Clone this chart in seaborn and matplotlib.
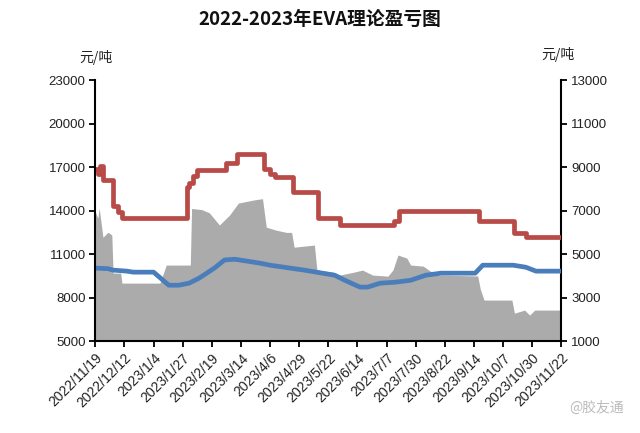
import matplotlib
matplotlib.use("Agg")
import matplotlib.pyplot as plt
import seaborn as sns
import pandas as pd

# ---------------- data ----------------
price_dates = ["2022-11-19", "2022-11-21", "2022-11-23", "2022-11-25", "2022-12-03",
               "2022-12-07", "2022-12-10", "2023-01-30", "2023-02-01", "2023-02-04",
               "2023-02-07", "2023-03-02", "2023-03-11", "2023-04-01", "2023-04-06",
               "2023-04-10", "2023-04-24", "2023-05-14", "2023-05-31", "2023-07-13",
               "2023-07-17", "2023-09-18", "2023-10-16", "2023-10-25", "2023-11-22"]
price_values = [16900, 16500, 17100, 16100, 14300,
                13900, 13500, 15600, 15900, 16400,
                16800, 17300, 17900, 16900, 16500,
                16300, 15300, 13500, 13000, 13300,
                14000, 13300, 12450, 12200, 12200]

cost_dates = ["2022-11-19", "2022-11-29", "2022-12-03", "2022-12-14", "2022-12-19",
              "2023-01-04", "2023-01-16", "2023-01-24", "2023-02-01", "2023-02-09",
              "2023-02-21", "2023-03-01", "2023-03-09", "2023-03-13", "2023-03-29",
              "2023-04-06", "2023-05-03", "2023-05-27", "2023-06-04", "2023-06-16",
              "2023-06-22", "2023-07-02", "2023-07-14", "2023-07-26", "2023-08-07",
              "2023-08-19", "2023-09-15", "2023-09-21", "2023-10-15", "2023-10-25",
              "2023-11-02", "2023-11-22"]
cost_values = [10040, 10000, 9900, 9830, 9760,
               9760, 8860, 8860, 9000, 9350,
               10040, 10600, 10650, 10600, 10380,
               10240, 9900, 9550, 9200, 8730,
               8730, 9000, 9070, 9200, 9550,
               9690, 9690, 10240, 10240, 10100,
               9830, 9830]

profit_dates = ["2022-11-19", "2022-11-21", "2022-11-22", "2022-11-25", "2022-11-29",
                "2022-12-02", "2022-12-03", "2022-12-09", "2022-12-10", "2023-01-09",
                "2023-01-14", "2023-02-02", "2023-02-03", "2023-02-11", "2023-02-17",
                "2023-02-25", "2023-03-05", "2023-03-12", "2023-03-25", "2023-03-31",
                "2023-04-03", "2023-04-11", "2023-04-19", "2023-04-23", "2023-04-25",
                "2023-05-11", "2023-05-13", "2023-05-26", "2023-05-31", "2023-06-11",
                "2023-06-18", "2023-06-26", "2023-07-08", "2023-07-12", "2023-07-16",
                "2023-07-23", "2023-07-26", "2023-08-05", "2023-08-15", "2023-09-17",
                "2023-09-19", "2023-09-22", "2023-10-14", "2023-10-16", "2023-10-24",
                "2023-10-28", "2023-11-01", "2023-11-22"]
profit_values = [6930, 6660, 7120, 5780, 6010,
                 5880, 4130, 4130, 3670, 3670,
                 4500, 4500, 7100, 7050, 6900,
                 6340, 6800, 7350, 7500, 7550,
                 6240, 6100, 6000, 6000, 5320,
                 5420, 4270, 4170, 4040, 4170,
                 4270, 4040, 3990, 4270, 4960,
                 4820, 4500, 4450, 4040, 4000,
                 3400, 2890, 2890, 2290, 2430,
                 2200, 2430, 2430]

tick_dates = ["2022-11-19", "2022-12-12", "2023-01-04", "2023-01-27", "2023-02-19",
              "2023-03-14", "2023-04-06", "2023-04-29", "2023-05-22", "2023-06-14",
              "2023-07-07", "2023-07-30", "2023-08-22", "2023-09-14", "2023-10-07",
              "2023-10-30", "2023-11-22"]
tick_labels = ["2022/11/19", "2022/12/12", "2023/1/4", "2023/1/27", "2023/2/19",
               "2023/3/14", "2023/4/6", "2023/4/29", "2023/5/22", "2023/6/14",
               "2023/7/7", "2023/7/30", "2023/8/22", "2023/9/14", "2023/10/7",
               "2023/10/30", "2023/11/22"]
left_ticks = [5000, 8000, 11000, 14000, 17000, 20000, 23000]
right_ticks = [1000, 3000, 5000, 7000, 9000, 11000, 13000]

# ---------------- style ----------------
sns.set_theme(style="white")
plt.rcParams["font.family"] = ["Liberation Sans", "Noto Sans CJK SC", "DejaVu Sans"]

price_df = pd.DataFrame({"date": pd.to_datetime(price_dates), "v": price_values})
cost_df = pd.DataFrame({"date": pd.to_datetime(cost_dates), "v": cost_values})
profit_df = pd.DataFrame({"date": pd.to_datetime(profit_dates), "v": profit_values})

fig = plt.figure(figsize=(6.4, 4.33), dpi=100)
ax = fig.add_axes([0.149, 0.212, 0.728, 0.603])
ax2 = ax.twinx()
ax.set_zorder(ax2.get_zorder() + 1)
ax.patch.set_visible(False)

# gray profit area on right axis
ax2.fill_between(profit_df["date"], 1000, profit_df["v"], color="#ABABAB", linewidth=0)
ax2.set_ylim(1000, 13000)

# lines on left axis
sns.lineplot(data=price_df, x="date", y="v", ax=ax, color="#B84A48", linewidth=3.4,
             drawstyle="steps-post")
sns.lineplot(data=cost_df, x="date", y="v", ax=ax, color="#4A7EBB", linewidth=3.4)
ax.set_ylim(5000, 23000)
ax.set_xlim(pd.Timestamp("2022-11-19"), pd.Timestamp("2023-11-22"))
ax.set_xlabel("")
ax.set_ylabel("")
ax2.set_ylabel("")

ax.set_yticks(left_ticks)
ax.set_yticklabels([str(t) for t in left_ticks], fontsize=9.5, color="#222222")
ax2.set_yticks(right_ticks)
ax2.set_yticklabels([str(t) for t in right_ticks], fontsize=9.5, color="#222222")
ax.set_xticks(pd.to_datetime(tick_dates))
ax.set_xticklabels(tick_labels, rotation=45, ha="right", rotation_mode="anchor",
                   fontsize=10, color="#222222")

for a in (ax, ax2):
    a.spines["top"].set_visible(False)
    for s in ("left", "right", "bottom"):
        a.spines[s].set_color("black")
        a.spines[s].set_linewidth(1.5)
ax.spines["right"].set_visible(False)
ax2.spines["left"].set_visible(False)
ax2.spines["bottom"].set_visible(False)
ax.tick_params(axis="both", which="major", direction="out", length=4, width=1.3,
               color="black", left=True, bottom=True, pad=3)
ax2.tick_params(axis="y", direction="out", length=4, width=1.3, color="black",
                right=True, pad=3)
ax.grid(False)
ax2.grid(False)

fig.text(0.5, 0.955, "2022-2023年EVA理论盈亏图", ha="center", va="center",
         fontsize=13.5, fontweight="bold", family=["Noto Sans CJK SC", "DejaVu Sans"],
         color="#111111")
fig.text(0.15, 0.868, "元/吨", ha="center", va="center", fontsize=10,
         family=["Noto Sans CJK SC", "DejaVu Sans"], color="#222222")
fig.text(0.872, 0.875, "元/吨", ha="center", va="center", fontsize=10,
         family=["Noto Sans CJK SC", "DejaVu Sans"], color="#222222")
fig.text(0.975, 0.058, "@胶友通", ha="right", va="center", fontsize=10,
         family=["Noto Sans CJK SC", "DejaVu Sans"], color="#BBBBBB")

fig.savefig("out.png", dpi=100)
